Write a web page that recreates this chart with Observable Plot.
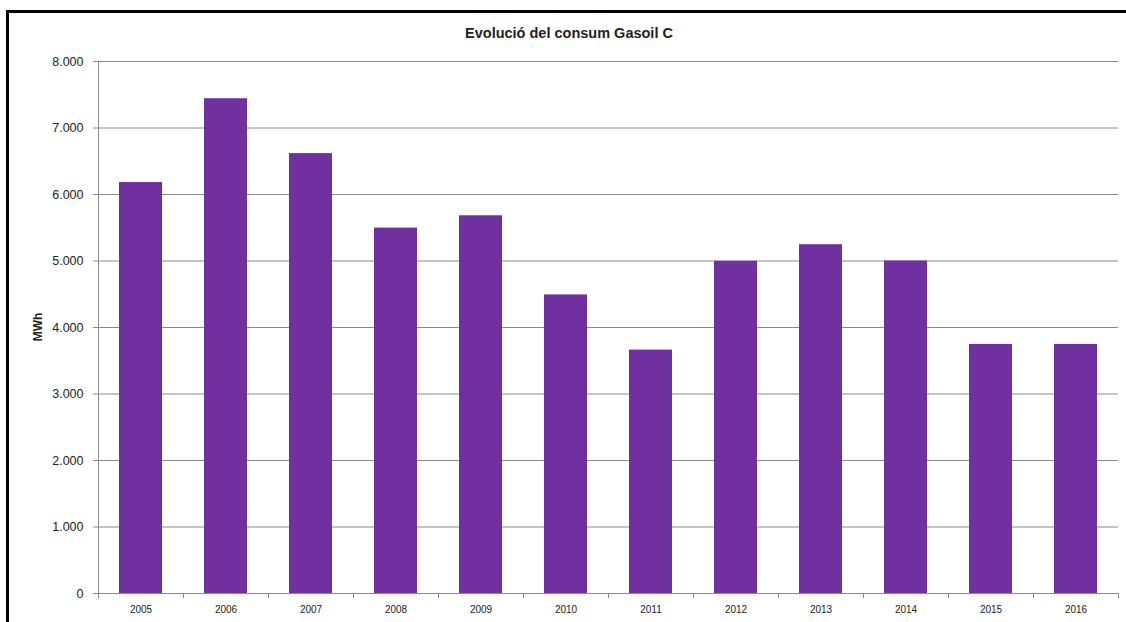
<!DOCTYPE html>
<html>
<head>
<meta charset="utf-8">
<script src="https://cdn.jsdelivr.net/npm/d3@7"></script>
<script src="https://cdn.jsdelivr.net/npm/@observablehq/plot@0.6"></script>
<style>
  html, body { margin: 0; padding: 0; background: #fff; }
  body { width: 1126px; height: 622px; position: relative; overflow: hidden; font-family: "Liberation Sans", Arial, sans-serif; }
  #frame { position: absolute; left: 6px; top: 10px; right: -10px; bottom: -10px; border-top: 3px solid #000; border-left: 3px solid #000; }
  #title { position: absolute; left: 369px; width: 400px; top: 25px; text-align: center; font-weight: bold; font-size: 14.5px; color: #222; }
  #chart { position: absolute; left: 0; top: 0; }
  #ylabel { position: absolute; left: 38px; top: 327px; transform: translate(-50%, -50%) rotate(-90deg); font-weight: bold; font-size: 12px; color: #222; white-space: nowrap; }
</style>
</head>
<body>
<div id="frame"></div>
<div id="chart"></div>
<div id="title">Evolució del consum Gasoil C</div>
<div id="ylabel">MWh</div>
<script>
const years = ["2005","2006","2007","2008","2009","2010","2011","2012","2013","2014","2015","2016"];
const values = [6180, 7440, 6615, 5495, 5680, 4490, 3660, 4995, 5245, 5000, 3745, 3745];
const yTicks = [0, 1000, 2000, 3000, 4000, 5000, 6000, 7000, 8000];

const data = years.map((y, i) => ({year: y, value: values[i]}));
const fmt = d3.formatLocale({decimal: ",", thousands: ".", grouping: [3], currency: ["", "€"]}).format(",");

const W = 1126, H = 622;
const mL = 98, mR = 8;
const step = (W - mL - mR) / years.length;

const chart = Plot.plot({
  width: W,
  height: H,
  marginLeft: mL,
  marginRight: mR,
  marginTop: 61,
  marginBottom: 29,
  style: {background: "transparent", fontFamily: "'Liberation Sans', Arial, sans-serif"},
  x: {type: "band", domain: years, paddingInner: 0.5, paddingOuter: 0.25, label: null},
  y: {domain: [0, 8000], label: null},
  marks: [
    Plot.gridY(yTicks.filter(d => d > 0), {stroke: "#8a8a8a", strokeOpacity: 1}),
    Plot.barY(data, {x: "year", y: "value", fill: "#7030A0"}),
    Plot.frame({anchor: "left", stroke: "#8a8a8a"}),
    Plot.frame({anchor: "bottom", stroke: "#8a8a8a"}),
    Plot.axisY({ticks: yTicks, tickFormat: fmt, tickSize: 5, tickPadding: 10, stroke: "#8a8a8a", fontSize: 12.5, fill: "#222", label: null, style: {letterSpacing: "0.6px"}}),
    Plot.axisX({ticks: years, tickSize: 5, text: null, dx: -step / 2, stroke: "#8a8a8a", label: null}),
    Plot.axisX({ticks: [years[years.length - 1]], tickSize: 5, text: null, dx: step / 2, stroke: "#8a8a8a", label: null}),
    Plot.axisX({ticks: years, tickSize: 0, tickPadding: 12, fontSize: 10, fill: "#222", label: null})
  ]
});
document.getElementById("chart").appendChild(chart);
</script>
</body>
</html>
